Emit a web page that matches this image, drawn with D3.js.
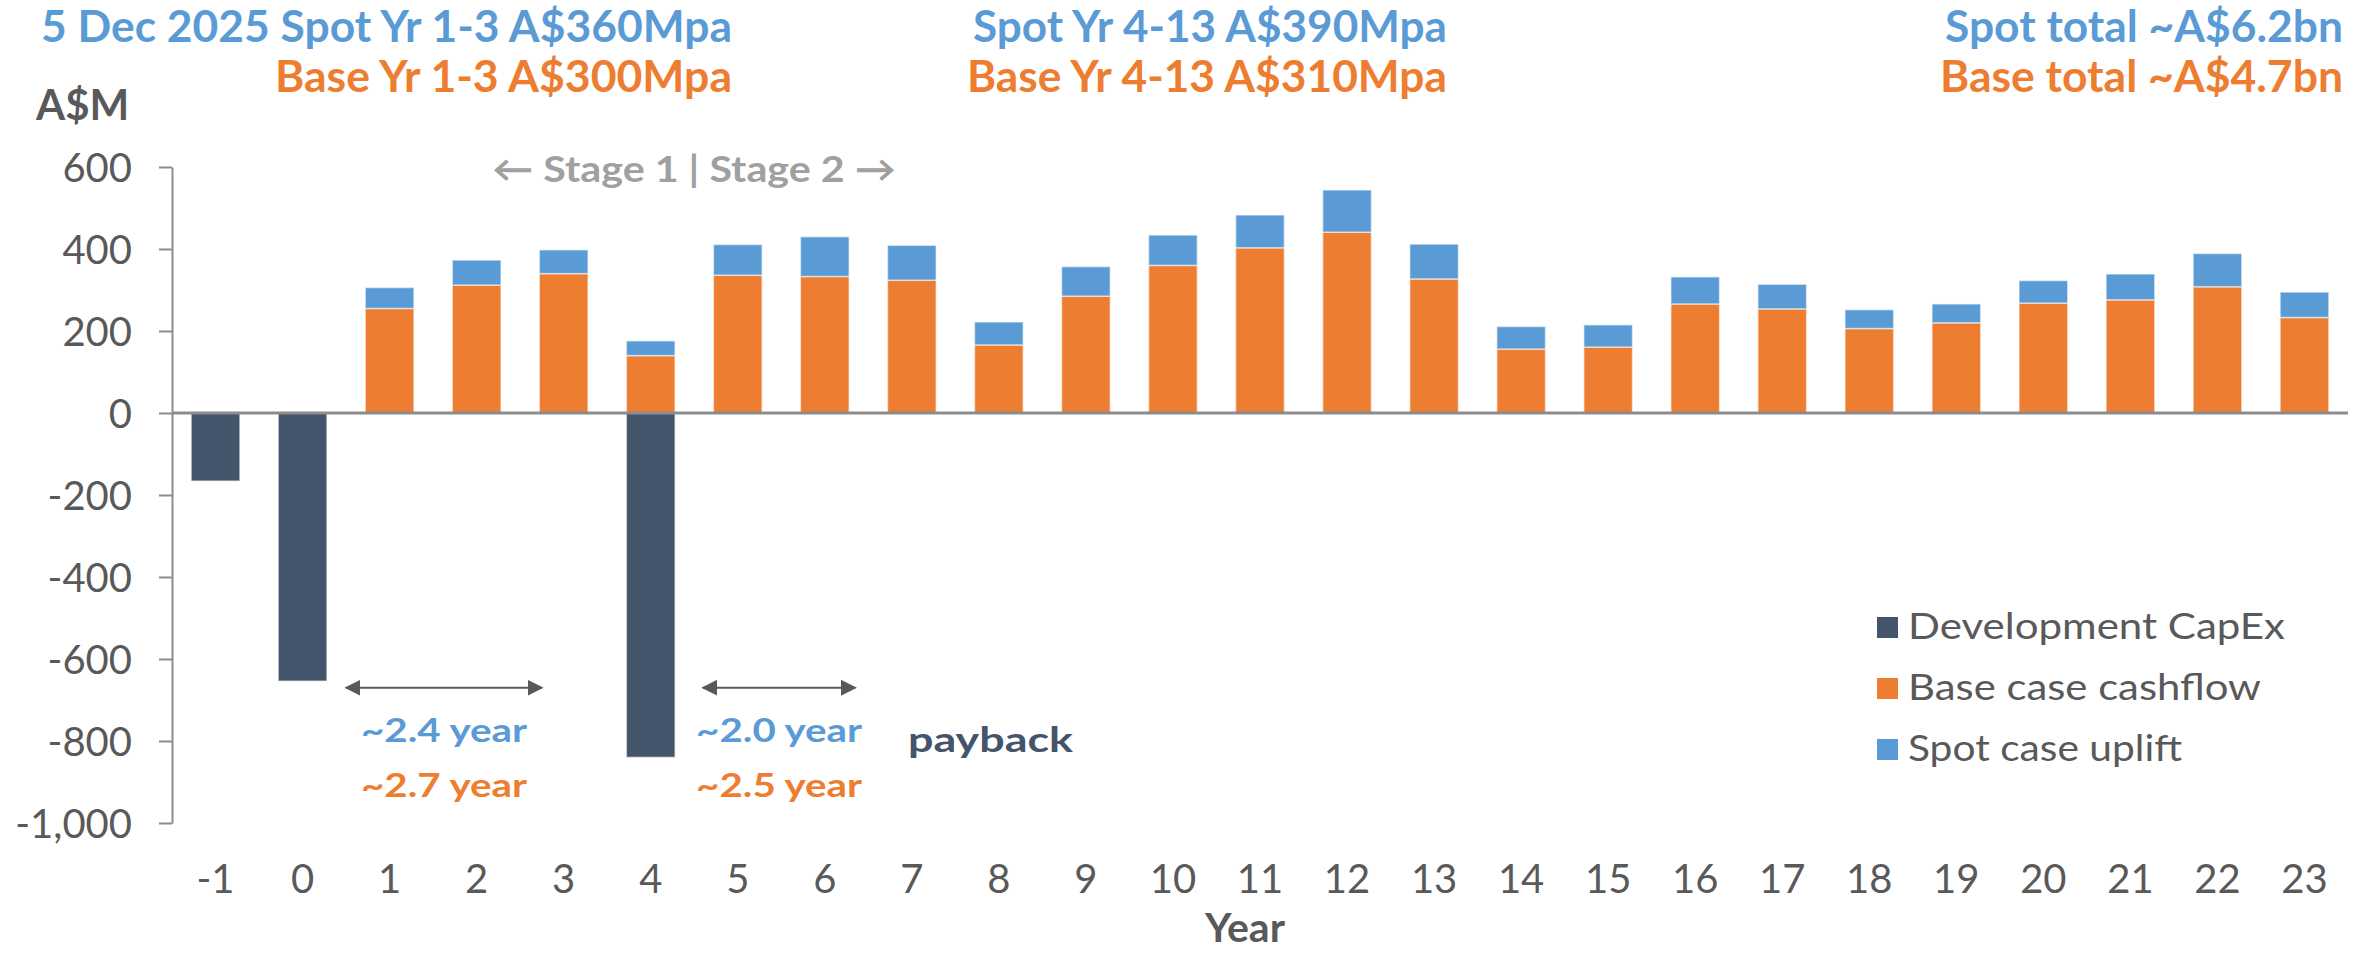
<!DOCTYPE html>
<html>
<head>
<meta charset="utf-8">
<script src="https://cdn.jsdelivr.net/npm/d3@7"></script>
<style>
  body { margin: 0; background: #fff; }
  svg text { font-family: Lato, "Open Sans", sans-serif; }
</style>
</head>
<body>
<svg id="chart" width="2374" height="953"></svg>
<script>
// chart values (A$M per year)
const years = [-1, 0, 1, 2, 3, 4, 5, 6, 7, 8, 9, 10, 11, 12, 13, 14, 15, 16, 17, 18, 19, 20, 21, 22, 23];
const capex = [-166, -654, 0, 0, 0, -840, 0, 0, 0, 0, 0, 0, 0, 0, 0, 0, 0, 0, 0, 0, 0, 0, 0, 0, 0];
const baseCashflow = [0, 0, 255, 312, 340, 140, 336, 333, 324, 166, 285, 360, 403, 441, 327, 156, 161, 266, 254, 206, 220, 268, 276, 308, 233];
const spotUplift = [0, 0, 51, 61, 58, 36, 75, 97, 85, 56, 72, 74, 80, 103, 85, 55, 54, 66, 60, 46, 46, 55, 63, 81, 62];
const yTicks = [600, 400, 200, 0, -200, -400, -600, -800, -1000];

const seriesKeys = ["capex", "base", "spot"];
const seriesNames = ["Development CapEx", "Base case cashflow", "Spot case uplift"];
const seriesColors = ["#44546a", "#ed7d31", "#5b9bd5"];

// header lines: spot row (blue) and base row (orange)
const spotHeader = ["5 Dec 2025 Spot Yr 1-3 A$360Mpa", "Spot Yr 4-13 A$390Mpa", "Spot total ~A$6.2bn"];
const baseHeader = ["Base Yr 1-3 A$300Mpa", "Base Yr 4-13 A$310Mpa", "Base total ~A$4.7bn"];

// payback annotations (year positions of the arrows)
const paybackFrom = [0.5, 4.6];
const paybackTo = [2.75, 6.35];
const spotPayback = ["~2.4 year", "~2.0 year"];
const basePayback = ["~2.7 year", "~2.5 year"];

const blue = "#5b9bd5", orange = "#ed7d31", slate = "#44546a", grey = "#595959", axisGrey = "#8c8c8c";

const svg = d3.select("#chart");

const rows = years.map((yr, i) => ({ year: yr, capex: capex[i], base: baseCashflow[i], spot: spotUplift[i] }));
const stacked = d3.stack().keys(seriesKeys).offset(d3.stackOffsetDiverging)(rows);

const x = d3.scaleBand().domain(years).range([172, 2348]).paddingInner(0.44).paddingOuter(0.22);
const y = d3.scaleLinear().domain([-1000, 600]).range([823, 167]);
const xYear = d3.scaleLinear()
  .domain([years[0], years[years.length - 1]])
  .range([x(years[0]) + x.bandwidth() / 2, x(years[years.length - 1]) + x.bandwidth() / 2]);

const fmt = d3.formatLocale({ decimal: ".", thousands: ",", grouping: [3], currency: ["$", ""], minus: "-" }).format(",");

// y axis
const yAxis = svg.append("g")
  .attr("transform", `translate(${x.range()[0]},0)`)
  .call(d3.axisLeft(y).tickValues(yTicks).tickSize(13).tickSizeOuter(0).tickPadding(27).tickFormat(fmt));
yAxis.select(".domain").attr("stroke", axisGrey).attr("stroke-width", 2);
yAxis.selectAll(".tick line").attr("stroke", axisGrey).attr("stroke-width", 2);
yAxis.selectAll(".tick text").attr("fill", grey).attr("font-size", 40).attr("dy", "0.36em");

// bars
svg.append("g").selectAll("g")
  .data(stacked)
  .join("g")
  .attr("fill", (d, i) => seriesColors[i])
  .selectAll("rect")
  .data(d => d.filter(p => p[1] !== p[0]))
  .join("rect")
  .attr("x", d => x(d.data.year))
  .attr("width", x.bandwidth())
  .attr("y", d => y(Math.max(d[0], d[1])))
  .attr("height", d => Math.abs(y(d[0]) - y(d[1])))
  .attr("stroke", "rgba(255,255,255,0.55)")
  .attr("stroke-width", 1.5);

// zero line
svg.append("line")
  .attr("x1", x.range()[0]).attr("x2", x.range()[1])
  .attr("y1", y(0)).attr("y2", y(0))
  .attr("stroke", axisGrey).attr("stroke-width", 3);

// x axis labels
const xAxis = svg.append("g")
  .attr("transform", "translate(0,893)")
  .call(d3.axisBottom(x).tickSize(0).tickPadding(0));
xAxis.select(".domain").remove();
xAxis.selectAll("text").attr("fill", grey).attr("font-size", 40).attr("y", 0).attr("dy", null);

svg.append("text")
  .attr("x", 1245).attr("y", 942)
  .attr("text-anchor", "middle")
  .attr("font-size", 41).attr("font-weight", 700).attr("fill", grey)
  .text("Year");

svg.append("text")
  .attr("x", 36).attr("y", 120)
  .attr("font-size", 42).attr("font-weight", 700).attr("fill", grey)
  .text("A$M");

// headers
const headerRight = [732, 1447, 2343];
const spotWidths = [691, 474, 398];
const baseWidths = [457, 480, 403];
svg.append("g").selectAll("text")
  .data(spotHeader)
  .join("text")
  .attr("x", (d, i) => headerRight[i]).attr("y", 42)
  .attr("text-anchor", "end")
  .attr("font-size", 44).attr("font-weight", 700).attr("fill", blue)
  .attr("textLength", (d, i) => spotWidths[i]).attr("lengthAdjust", "spacingAndGlyphs")
  .text(d => d);
svg.append("g").selectAll("text")
  .data(baseHeader)
  .join("text")
  .attr("x", (d, i) => headerRight[i]).attr("y", 92)
  .attr("text-anchor", "end")
  .attr("font-size", 44).attr("font-weight", 700).attr("fill", orange)
  .attr("textLength", (d, i) => baseWidths[i]).attr("lengthAdjust", "spacingAndGlyphs")
  .text(d => d);

svg.append("text")
  .attr("x", 492).attr("y", 182)
  .attr("font-size", 36).attr("font-weight", 700).attr("fill", "#a0a0a0")
  .attr("textLength", 404).attr("lengthAdjust", "spacingAndGlyphs")
  .text("\u2190 Stage 1 | Stage 2 \u2192");

// payback arrows
const defs = svg.append("defs");
defs.append("marker")
  .attr("id", "head")
  .attr("viewBox", "0 0 10 10")
  .attr("refX", 9).attr("refY", 5)
  .attr("markerUnits", "userSpaceOnUse")
  .attr("markerWidth", 16).attr("markerHeight", 16)
  .attr("orient", "auto-start-reverse")
  .append("path")
  .attr("d", "M0,0 L10,5 L0,10 Z")
  .attr("fill", grey);

const arrowY = y(-670);
svg.append("g").selectAll("line")
  .data(paybackFrom)
  .join("line")
  .attr("x1", d => xYear(d)).attr("x2", (d, i) => xYear(paybackTo[i]))
  .attr("y1", arrowY).attr("y2", arrowY)
  .attr("stroke", grey).attr("stroke-width", 2)
  .attr("marker-start", "url(#head)").attr("marker-end", "url(#head)");

svg.append("g").selectAll("text")
  .data(spotPayback)
  .join("text")
  .attr("x", (d, i) => (xYear(paybackFrom[i]) + xYear(paybackTo[i])) / 2)
  .attr("y", 742)
  .attr("text-anchor", "middle")
  .attr("font-size", 33).attr("font-weight", 700).attr("fill", blue)
  .attr("textLength", 166).attr("lengthAdjust", "spacingAndGlyphs")
  .text(d => d);
svg.append("g").selectAll("text")
  .data(basePayback)
  .join("text")
  .attr("x", (d, i) => (xYear(paybackFrom[i]) + xYear(paybackTo[i])) / 2)
  .attr("y", 797)
  .attr("text-anchor", "middle")
  .attr("font-size", 33).attr("font-weight", 700).attr("fill", orange)
  .attr("textLength", 166).attr("lengthAdjust", "spacingAndGlyphs")
  .text(d => d);

svg.append("text")
  .attr("x", 908).attr("y", 752)
  .attr("font-size", 34).attr("font-weight", 700).attr("fill", slate)
  .attr("textLength", 165).attr("lengthAdjust", "spacingAndGlyphs")
  .text("payback");

// legend
const legendWidths = [377, 353, 274];
const legend = svg.append("g").selectAll("g")
  .data(seriesNames)
  .join("g")
  .attr("transform", (d, i) => `translate(1877,${617 + i * 61})`);
legend.append("rect")
  .attr("width", 21).attr("height", 21)
  .attr("fill", (d, i) => seriesColors[i]);
legend.append("text")
  .attr("x", 31).attr("y", 22)
  .attr("font-size", 37).attr("fill", grey)
  .attr("textLength", (d, i) => legendWidths[i]).attr("lengthAdjust", "spacingAndGlyphs")
  .text(d => d);
</script>
</body>
</html>
